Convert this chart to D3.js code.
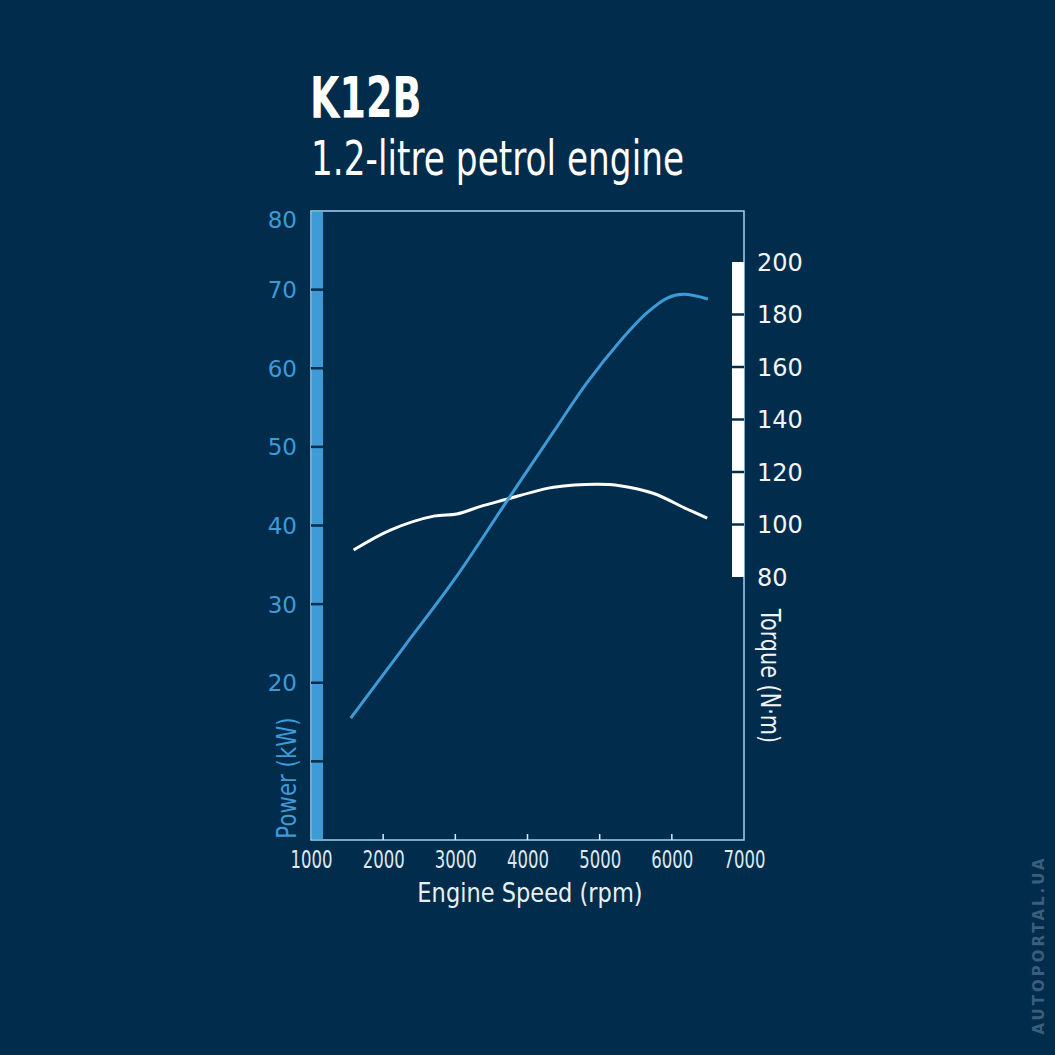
<!DOCTYPE html>
<html>
<head>
<meta charset="utf-8">
<script src="https://cdn.jsdelivr.net/npm/d3@7"></script>
<style>
  html, body { margin: 0; padding: 0; background: #022c4b; }
  svg { display: block; }
</style>
</head>
<body>
<div id="chart"></div>
<script>
// engine speed (rpm) sampled along the curves
const powerRpm = [1550, 2300, 3000, 3700, 4360, 4820, 5280, 5650, 5930, 6160, 6500];
const powerKw  = [15.5, 24.7, 33.3, 42.9, 51.9, 58.1, 63.4, 67.0, 68.9, 69.4, 68.8];

const torqueRpm = [1590, 2100, 2700, 3020, 3340, 3710, 4170, 4360, 4960, 5280, 5740, 6200, 6490];
const torqueNm  = [90.3, 97.9, 103.2, 104.0, 106.8, 109.6, 113.1, 114.2, 115.3, 114.8, 111.9, 106.0, 102.4];

const rpmTicks = [1000, 2000, 3000, 4000, 5000, 6000, 7000];
const powerTicks = [10, 20, 30, 40, 50, 60, 70, 80];
const powerLabels = [20, 30, 40, 50, 60, 70, 80];
const torqueTicks = [80, 100, 120, 140, 160, 180, 200];

const W = 1055, H = 1055;
const box = { left: 311, right: 744, top: 211, bottom: 840 };

const bg = '#022c4b';
const blue = '#3d9bd8';
const white = '#f2f5f8';
const font = '"DejaVu Sans", sans-serif';

const svg = d3.select('#chart').append('svg')
  .attr('width', W).attr('height', H);

svg.append('rect').attr('width', W).attr('height', H).attr('fill', bg);

const x = d3.scaleLinear().domain([1000, 7000]).range([box.left, box.right]);
const yP = d3.scaleLinear().domain([0, 80]).range([box.bottom, box.top]);
const yT = d3.scaleLinear().domain([80, 200]).range([577, 262]);

// titles (squeezed horizontally to mimic the condensed face)
svg.append('text')
  .attr('transform', 'translate(310,118) scale(0.68,1)')
  .attr('font-family', font).attr('font-weight', 'bold')
  .attr('font-size', 56).attr('fill', '#ffffff')
  .text('K12B');
svg.append('text')
  .attr('transform', 'translate(311,175) scale(0.715,1)')
  .attr('font-family', font)
  .attr('font-size', 48).attr('fill', '#ffffff')
  .text('1.2-litre petrol engine');

// plot frame
svg.append('rect')
  .attr('x', box.left).attr('y', box.top)
  .attr('width', box.right - box.left).attr('height', box.bottom - box.top)
  .attr('fill', 'none').attr('stroke', '#a9d1ee').attr('stroke-width', 1.5);

// left power band
svg.append('rect')
  .attr('x', box.left + 1).attr('y', box.top + 1)
  .attr('width', 11).attr('height', box.bottom - box.top - 2)
  .attr('fill', blue);

// right torque band
svg.append('rect')
  .attr('x', box.right - 12).attr('y', yT(200))
  .attr('width', 12).attr('height', yT(80) - yT(200))
  .attr('fill', '#ffffff');

// left axis
const leftAxis = d3.axisLeft(yP).tickValues(powerTicks).tickSize(0)
  .tickFormat(d => powerLabels.includes(d) ? d : '');
const gl = svg.append('g').attr('transform', `translate(${box.left - 11},0)`).call(leftAxis);
gl.select('.domain').remove();
gl.selectAll('text')
  .attr('font-family', font).attr('font-size', 23)
  .attr('fill', blue).attr('dy', d => d === 80 ? '0.72em' : '0.35em');
// band tick marks
svg.append('g').selectAll('line')
  .data(powerTicks.filter(d => d < 80))
  .join('line')
  .attr('x1', box.left).attr('x2', box.left + 12)
  .attr('y1', d => yP(d)).attr('y2', d => yP(d))
  .attr('stroke', bg).attr('stroke-width', 2.5);

// right axis
const rightAxis = d3.axisRight(yT).tickValues(torqueTicks).tickSize(0);
const gr = svg.append('g').attr('transform', `translate(${box.right + 10},0)`).call(rightAxis);
gr.select('.domain').remove();
gr.selectAll('text')
  .attr('font-family', font).attr('font-size', 24)
  .attr('fill', white).attr('dy', '0.35em');
svg.append('g').selectAll('line')
  .data(torqueTicks.filter(d => d > 80 && d < 200))
  .join('line')
  .attr('x1', box.right - 12).attr('x2', box.right)
  .attr('y1', d => yT(d)).attr('y2', d => yT(d))
  .attr('stroke', bg).attr('stroke-width', 2.5);

// bottom axis
const bottomAxis = d3.axisBottom(x).tickValues(rpmTicks).tickSize(0).tickFormat(d3.format('d'));
const gb = svg.append('g').attr('transform', `translate(0,${box.bottom + 7})`).call(bottomAxis);
gb.select('.domain').remove();
gb.selectAll('text')
  .attr('font-family', font).attr('font-size', 25)
  .attr('transform', 'scale(0.66,1)')
  .attr('fill', '#dce9f3');
svg.append('g').selectAll('line')
  .data(rpmTicks.slice(1, -1))
  .join('line')
  .attr('x1', d => x(d)).attr('x2', d => x(d))
  .attr('y1', box.bottom).attr('y2', box.bottom - 6)
  .attr('stroke', '#dce9f3').attr('stroke-width', 1.5);

// axis titles
svg.append('text')
  .attr('transform', 'translate(530,902) scale(0.835,1)')
  .attr('text-anchor', 'middle')
  .attr('font-family', font).attr('font-size', 27)
  .attr('fill', '#e8f0f6')
  .text('Engine Speed (rpm)');
svg.append('text')
  .attr('transform', 'translate(296,778) rotate(-90) scale(0.82,1)')
  .attr('text-anchor', 'middle')
  .attr('font-family', font).attr('font-size', 26)
  .attr('fill', blue)
  .text('Power (kW)');
svg.append('text')
  .attr('transform', 'translate(761,676) rotate(90) scale(0.8,1)')
  .attr('text-anchor', 'middle')
  .attr('font-family', font).attr('font-size', 26)
  .attr('fill', white)
  .text('Torque (N·m)');

// curves
const powerLine = d3.line()
  .x((d, i) => x(powerRpm[i])).y(d => yP(d))
  .curve(d3.curveCatmullRom.alpha(0.5));
const torqueLine = d3.line()
  .x((d, i) => x(torqueRpm[i])).y(d => yT(d))
  .curve(d3.curveCatmullRom.alpha(0.5));

svg.append('path').attr('d', torqueLine(torqueNm))
  .attr('fill', 'none').attr('stroke', '#ffffff').attr('stroke-width', 3);
svg.append('path').attr('d', powerLine(powerKw))
  .attr('fill', 'none').attr('stroke', blue).attr('stroke-width', 3);

// watermark
svg.append('text')
  .attr('transform', 'translate(1044,945) rotate(-90)')
  .attr('text-anchor', 'middle')
  .attr('font-family', font).attr('font-weight', 'bold')
  .attr('font-size', 15).attr('letter-spacing', 3)
  .attr('fill', '#3b5e7b')
  .text('AUTOPORTAL.UA');
</script>
</body>
</html>
